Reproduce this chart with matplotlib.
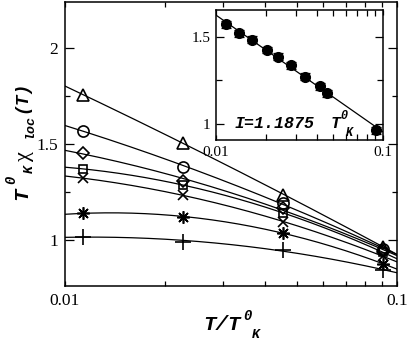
import numpy as np
import matplotlib
matplotlib.use("Agg")
import matplotlib.pyplot as plt
from matplotlib.ticker import FixedLocator, NullFormatter, FixedFormatter

# ---------------- data ----------------
t_main = [0.01136, 0.02273, 0.04545, 0.09091]
chi_triangle = [1.755, 1.507, 1.234, 0.965]
chi_circle = [1.568, 1.382, 1.190, 0.955]
chi_diamond = [1.452, 1.307, 1.167, 0.945]
chi_square = [1.370, 1.286, 1.140, 0.935]
chi_cross = [1.321, 1.234, 1.094, 0.915]
chi_star = [1.139, 1.121, 1.036, 0.875]
chi_plus = [1.017, 0.991, 0.948, 0.843]

t_inset = [0.01143, 0.01378, 0.01648, 0.0201, 0.02357, 0.02807, 0.0343, 0.0419, 0.0459, 0.0913]
chi_inset = [1.570, 1.519, 1.481, 1.424, 1.385, 1.338, 1.271, 1.218, 1.177, 0.967]
err_inset = [0.02, 0.02, 0.02, 0.015, 0.02, 0.02, 0.02, 0.02, 0.02, 0.02]

xticks_main = [0.01, 0.1]
xtick_labels_main = ["0.01", "0.1"]
yticks_main = [1, 1.5, 2]
ytick_labels_main = ["1", "1.5", "2"]

W, H = 409, 342
fig = plt.figure(figsize=(W / 100, H / 100), dpi=100)

def fx(px):
    return px / W

def fy(py):
    return 1 - py / H

serif = "Liberation Serif"
mono = "Liberation Mono"

# ---------------- main axes ----------------
ax = fig.add_axes([fx(65), fy(286), fx(397) - fx(65), fy(2) - fy(286)])
ax.set_xscale("log")
ax.set_xlim(0.01, 0.1)
ax.set_ylim(0.76, 2.24)

series = [
    (chi_triangle, dict(marker="^", ms=9)),
    (chi_circle, dict(marker="o", ms=8)),
    (chi_diamond, dict(marker="D", ms=6)),
    (chi_square, dict(marker="s", ms=6)),
    (chi_cross, dict(marker="x", ms=7)),
    (chi_star, dict(marker=(8, 2, 0), ms=9)),
    (chi_plus, dict(marker="+", ms=11)),
]
lx = np.log10(t_main)
xx = np.logspace(-2, -1, 200)
for vals, mk in series:
    c = np.polyfit(lx, vals, 2)
    ax.plot(xx, np.polyval(c, np.log10(xx)), color="black", lw=0.9, zorder=2)
    ax.plot(t_main, vals, ls="none", mfc="none", mec="black", mew=1.2, zorder=3, **mk)

ax.xaxis.set_major_locator(FixedLocator(xticks_main))
ax.xaxis.set_major_formatter(FixedFormatter(xtick_labels_main))
ax.xaxis.set_minor_locator(FixedLocator([0.01 * k for k in range(2, 10)]))
ax.xaxis.set_minor_formatter(NullFormatter())
ax.yaxis.set_major_locator(FixedLocator(yticks_main))
ax.yaxis.set_major_formatter(FixedFormatter(ytick_labels_main))
ax.yaxis.set_minor_locator(FixedLocator([0.75, 1.25, 1.75, 2.25]))
ax.tick_params(which="both", direction="in", top=True, right=True, width=0.9)
ax.tick_params(which="major", length=6.5, labelsize=12.5, pad=5)
ax.tick_params(which="minor", length=3.5)
ax.tick_params(axis="x", which="major", length=3.5)
for lab in ax.get_xticklabels() + ax.get_yticklabels():
    lab.set_fontfamily(serif)
for s in ax.spines.values():
    s.set_linewidth(1.1)

# x label pieces
fig.text(fx(222), fy(325), "T/T", family=mono, weight="bold", style="italic",
         fontsize=15, ha="center", va="center")
fig.text(fx(247), fy(316), "0", family=mono, weight="bold", style="italic",
         fontsize=10, ha="center", va="center")
fig.text(fx(256), fy(335), "K", family=mono, weight="bold", style="italic",
         fontsize=9.5, ha="center", va="center")

# y label pieces (rotated)
kw = dict(weight="bold", style="italic", rotation=90, ha="center", va="center")
fig.text(fx(22), fy(194), "T", family=mono, fontsize=15, **kw)
fig.text(fx(11), fy(180), "0", family=mono, fontsize=10, **kw)
fig.text(fx(30), fy(169), "K", family=mono, fontsize=9.5, **kw)
fig.text(fx(24), fy(156), "χ", family=serif, fontsize=16, rotation=90, ha="center", va="center")
fig.text(fx(30), fy(126), "loc", family=mono, fontsize=9.5, **kw)
fig.text(fx(22), fy(97), "(T)", family=mono, fontsize=13, **kw)

# ---------------- inset ----------------
ins = fig.add_axes([fx(216), fy(140), fx(383) - fx(216), fy(10) - fy(140)])
ins.set_xscale("log")
ins.set_xlim(0.01, 0.1)
ins.set_ylim(0.91, 1.652)
li = np.log10(t_inset)
ci = np.polyfit(li, chi_inset, 1)
ins.plot(xx, np.polyval(ci, np.log10(xx)), color="black", lw=0.9, zorder=2)
ins.errorbar(t_inset, chi_inset, yerr=err_inset, fmt="o", color="black", ms=7,
             capsize=3.5, elinewidth=0.9, capthick=0.9, zorder=3)
ins.xaxis.set_major_locator(FixedLocator(xticks_main))
ins.xaxis.set_major_formatter(FixedFormatter(xtick_labels_main))
ins.xaxis.set_minor_locator(FixedLocator([0.01 * k for k in range(2, 10)]))
ins.xaxis.set_minor_formatter(NullFormatter())
ins.yaxis.set_major_locator(FixedLocator([1, 1.5]))
ins.yaxis.set_major_formatter(FixedFormatter(["1", "1.5"]))
ins.yaxis.set_minor_locator(FixedLocator([1.25]))
ins.tick_params(which="both", direction="in", top=True, right=True, width=0.9)
ins.tick_params(which="major", length=6, labelsize=11, pad=4)
ins.tick_params(which="minor", length=4)
ins.tick_params(axis="x", which="major", length=3.5)
for lab in ins.get_xticklabels() + ins.get_yticklabels():
    lab.set_fontfamily(serif)
for s in ins.spines.values():
    s.set_linewidth(1.1)

fig.text(fx(275), fy(124), "I=1.1875", family=mono, weight="bold", style="italic",
         fontsize=12, ha="center", va="center")
fig.text(fx(336), fy(124), "T", family=mono, weight="bold", style="italic",
         fontsize=12, ha="center", va="center")
fig.text(fx(344), fy(116), "0", family=mono, weight="bold", style="italic",
         fontsize=8.5, ha="center", va="center")
fig.text(fx(349), fy(133), "K", family=mono, weight="bold", style="italic",
         fontsize=8.5, ha="center", va="center")

fig.savefig("out.png", dpi=100)
